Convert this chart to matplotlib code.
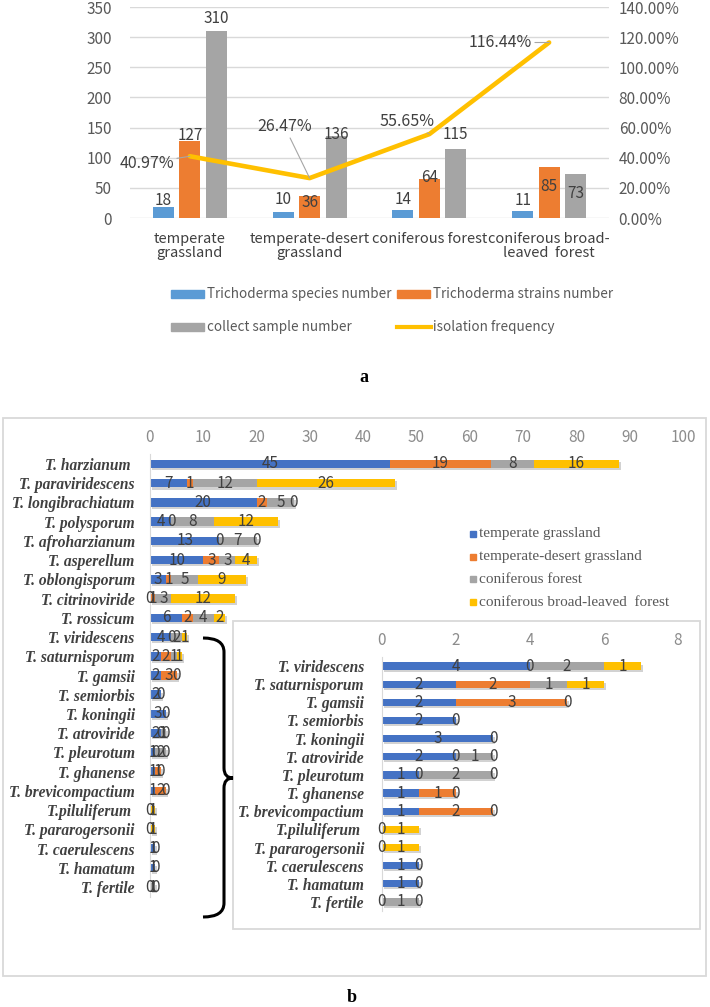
import matplotlib
matplotlib.use('Agg')
import numpy as np
import matplotlib.pyplot as plt
import matplotlib.patheffects as pe
from matplotlib.patches import Rectangle, PathPatch
from matplotlib.path import Path
from matplotlib.lines import Line2D

# ---- panel a data
habitats = ['temperate\ngrassland', 'temperate-desert\ngrassland',
            'coniferous forest', 'coniferous broad-\nleaved  forest']
species_number = [18, 10, 14, 11]
strains_number = [127, 36, 64, 85]
sample_number = [310, 136, 115, 73]
isolation_freq = [40.97, 26.47, 55.65, 116.44]  # percent

# ---- panel b data (nan = no label / no segment)
nan = np.nan
species = ['T. harzianum ', 'T. paraviridescens', 'T. longibrachiatum', 'T. polysporum',
           'T. afroharzianum', 'T. asperellum', 'T. oblongisporum', 'T. citrinoviride',
           'T. rossicum', 'T. viridescens', 'T. saturnisporum', 'T. gamsii',
           'T. semiorbis', 'T. koningii', 'T. atroviride', 'T. pleurotum',
           'T. ghanense', 'T. brevicompactium', 'T.piluliferum ', 'T. pararogersonii',
           'T. caerulescens', 'T. hamatum', 'T. fertile']
grassland = [45, 7, 20, 4, 13, 10, 3, 0, 6, 4, 2, 2, 2, 3, 2, 1, 1, 1, 0, 0, 1, 1, 0]
desert = [19, 1, 2, 0, 0, 3, 1, 1, 2, 0, 2, 3, 0, 0, 0, 0, 1, 2, nan, nan, 0, 0, nan]
conifer = [8, 12, 5, 8, 7, 3, 5, 3, 4, 2, 1, 0, nan, nan, 1, 2, 0, 0, nan, nan, nan, nan, 1]
broadleaf = [16, 26, 0, 12, 0, 4, 9, 12, 2, 1, 1, nan, nan, nan, 0, 0, nan, nan, 1, 1, nan, nan, 0]
b_series = ['temperate grassland', 'temperate-desert grassland', 'coniferous forest',
            'coniferous broad-leaved  forest']
inset_start = 9

W, H = 710, 1007
narrow = ['Noto Sans CJK SC', 'DejaVu Sans']
serif = ['Liberation Serif', 'DejaVu Serif']


def fx(x):
    return x / W


def fy(y):
    return 1 - y / H


def box(x0, y0, x1, y1):
    return [fx(x0), fy(y1), (x1 - x0) / W, (y1 - y0) / H]


fig = plt.figure(figsize=(7.1, 10.07), dpi=100)

# ================= panel a =================
cols_a = ['#5B9BD5', '#ED7D31', '#A5A5A5']
ax = fig.add_axes(box(130, 7, 609, 218))
x = np.arange(len(habitats))
bw, off = 0.175, 0.221
# label offsets in pixels (positive = above bar top)
lab_off = [[7, 12, 10, 11], [6, -6, 2, -20], [13, 2, 14, -20]]
for k, vals in enumerate([species_number, strains_number, sample_number]):
    xs = x + (k - 1) * off
    ax.bar(xs, vals, bw, color=cols_a[k], zorder=2)
    for xi, v, o in zip(xs, vals, lab_off[k]):
        ax.annotate(str(v), (xi, v), xytext=(0, o * 0.72), textcoords='offset points',
                    ha='center', va='center', fontsize=11, color='#404040',
                    family=narrow, zorder=5)
ax.set_xlim(-0.5, 3.5)
ax.set_ylim(0, 350)
ax.set_yticks(range(0, 351, 50))
ax.set_xticks(x)
ax.set_xticklabels(habitats, family=narrow, fontsize=10.5, color='#404040', linespacing=1.05)
ax.tick_params(axis='x', length=0, pad=10)
ax.tick_params(axis='y', length=0, pad=13, labelcolor='#595959', labelsize=11)
for t in ax.get_yticklabels():
    t.set_family(narrow)
ax.grid(axis='y', color='#D9D9D9', lw=1, zorder=0)
for s in ax.spines.values():
    s.set_visible(False)

ax2 = ax.twinx()
ax2.plot(x, isolation_freq, color='#FFC000', lw=3.3, solid_joinstyle='round',
         solid_capstyle='round', zorder=3)
ax2.set_ylim(0, 140)
ax2.set_yticks(range(0, 141, 20))
ax2.set_yticklabels([f'{v:.2f}%' for v in range(0, 141, 20)], family=narrow)
ax2.tick_params(axis='y', length=0, pad=7, labelcolor='#595959', labelsize=11)
for s in ax2.spines.values():
    s.set_visible(False)
pct_off = [(-31, -5), (-18, 37), (-16, 9), (-35, 0)]
for xi, v, o in zip(x, isolation_freq, pct_off):
    ax2.annotate(f'{v:.2f}%', (xi, v), xytext=o, textcoords='offset points',
                 ha='center', va='center', fontsize=11.5, color='#404040', family=narrow,
                 arrowprops=dict(arrowstyle='-', color='#A6A6A6', lw=0.8,
                                 shrinkA=0, shrinkB=0))

# legend a (manual layout)
leg_a = [(171, 294, cols_a[0], 'Trichoderma species number', 'patch'),
         (397, 294, cols_a[1], 'Trichoderma strains number', 'patch'),
         (171, 327, cols_a[2], 'collect sample number', 'patch'),
         (397, 327, '#FFC000', 'isolation frequency', 'line')]
for lx, ly, c, txt, kind in leg_a:
    if kind == 'patch':
        fig.patches.append(Rectangle((fx(lx), fy(ly + 4)), 33 / W, 8 / H, color=c,
                                     transform=fig.transFigure))
    else:
        fig.lines.append(Line2D([fx(lx), fx(lx + 34)], [fy(ly), fy(ly)], color=c, lw=3,
                                transform=fig.transFigure))
    fig.text(fx(lx + 36), fy(ly), txt, ha='left', va='center', fontsize=9.7,
             color='#595959', family=narrow)

fig.text(fx(364), fy(377), 'a', ha='center', va='center', fontsize=13,
         fontweight='bold', family=serif)

# ================= panel b =================
cols_b = ['#4472C4', '#ED7D31', '#A5A5A5', '#FFC000']
shadow = [pe.SimplePatchShadow(offset=(1.5, -1.5), shadow_rgbFace='#808080', alpha=0.35),
          pe.Normal()]

fig.patches.append(Rectangle((fx(3), fy(976)), 703 / W, 558 / H, fill=False,
                             ec='#D9D9D9', lw=1.3, transform=fig.transFigure))


def stacked(axh, rows, height):
    y = np.arange(len(rows))
    left = np.zeros(len(rows))
    for k, ser in enumerate([grassland, desert, conifer, broadleaf]):
        vals = np.array([ser[i] for i in rows], dtype=float)
        w = np.nan_to_num(vals)
        axh.barh(y, w, left=left, height=height, color=cols_b[k], path_effects=shadow,
                 zorder=2)
        for yi, v, l in zip(y, vals, left):
            if not np.isnan(v):
                axh.text(l + v / 2, yi, f'{int(v)}', ha='center', va='center',
                         fontsize=11, color='#404040', family=narrow, zorder=4)
        left = left + w
    axh.set_yticks(y)
    axh.set_yticklabels([species[i] for i in rows], family=serif, fontweight='bold',
                        fontstyle='italic', fontsize=11.2, color='#404040')
    axh.xaxis.tick_top()
    axh.tick_params(axis='both', length=0)
    axh.tick_params(axis='x', labelcolor='#8C8C8C', labelsize=11, pad=6)
    for t in axh.get_xticklabels():
        t.set_family(narrow)
    for name, s in axh.spines.items():
        s.set_visible(name == 'left')
    axh.spines['left'].set_color('#D9D9D9')


axb = fig.add_axes(box(150, 454, 683, 897))
stacked(axb, list(range(len(species))), 0.44)
axb.set_xlim(0, 100)
axb.set_xticks(range(0, 101, 10))
axb.set_ylim(len(species) - 0.48, -0.52)
axb.tick_params(axis='y', pad=11)

# inset box and axes
fig.patches.append(Rectangle((fx(233), fy(929)), 467 / W, 308 / H, fc='white',
                             ec='#D9D9D9', lw=1.3, transform=fig.transFigure))
axi = fig.add_axes(box(382, 657, 678, 911))
axi.set_zorder(3)
axi.patch.set_alpha(0)
rows_i = list(range(inset_start, len(species)))
stacked(axi, rows_i, 0.40)
axi.set_xlim(0, 8)
axi.set_xticks(range(0, 9, 2))
axi.set_ylim(len(rows_i) - 0.5, -0.5)
axi.tick_params(axis='y', pad=13)

# legend b (manual layout)
for k, (name, c) in enumerate(zip(b_series, cols_b)):
    ly = 534 + k * 22.7
    fig.patches.append(Rectangle((fx(470), fy(ly + 3)), 6 / W, 6 / H, color=c,
                                 transform=fig.transFigure, zorder=5))
    fig.text(fx(479), fy(ly), name, ha='left', va='center', fontsize=11,
             color='#595959', family=serif)

# curly brace linking main chart to the inset
pts = [(203, 638), (224, 638), (224, 652), (224, 768), (224, 778), (233, 778),
       (224, 778), (224, 788), (224, 903), (224, 917), (203, 917)]
codes = [Path.MOVETO, Path.CURVE3, Path.CURVE3, Path.LINETO, Path.CURVE3, Path.CURVE3,
         Path.CURVE3, Path.CURVE3, Path.LINETO, Path.CURVE3, Path.CURVE3]
brace = Path([(fx(px), fy(py)) for px, py in pts], codes)
fig.patches.append(PathPatch(brace, fill=False, ec='black', lw=2.2,
                             transform=fig.transFigure, zorder=4))

fig.text(fx(352), fy(998), 'b', ha='center', va='center', fontsize=13,
         fontweight='bold', family=serif)

fig.savefig('out.png', dpi=100)
